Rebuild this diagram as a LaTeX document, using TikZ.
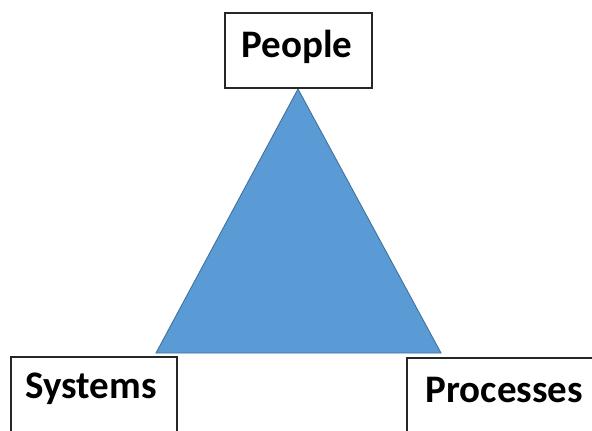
\documentclass[tikz,border=0pt]{standalone}
\usepackage{fontspec}
\setmainfont{Carlito}
\begin{document}
\begin{tikzpicture}[x=1pt,y=-1pt,
  labelbox/.style={draw=black!85,line width=1.2pt,fill=white,inner sep=0pt},
  labeltext/.style={font=\bfseries\fontsize{39}{42}\selectfont,inner sep=0pt,anchor=base},
  tri/.style={fill=triblue,draw=triedge,line width=0.9pt,line join=miter}]
\definecolor{triblue}{HTML}{5B9BD5}
\definecolor{triedge}{HTML}{41719C}
\useasboundingbox (0,0) rectangle (592,431);
\clip (0,0) rectangle (592,431);
% triangle corners
\coordinate (apex) at (298,89);
\coordinate (left) at (156,353);
\coordinate (right) at (441,353);
\draw[tri] (apex) -- (left) -- (right) -- cycle;
% label boxes
\node[labelbox,minimum width=147pt,minimum height=75pt] (peoplebox) at (298.5,50.5) {};
\node[labelbox,minimum width=166pt,minimum height=100pt] (systemsbox) at (94,407) {};
\node[labelbox,minimum width=200pt,minimum height=100pt] (processesbox) at (507,408) {};
% labels
\node[labeltext] (people) at (297,57) {People};
\node[labeltext] (systems) at (91,398) {Systems};
\node[labeltext] (processes) at (504.5,402) {Processes};
\end{tikzpicture}
\end{document}
